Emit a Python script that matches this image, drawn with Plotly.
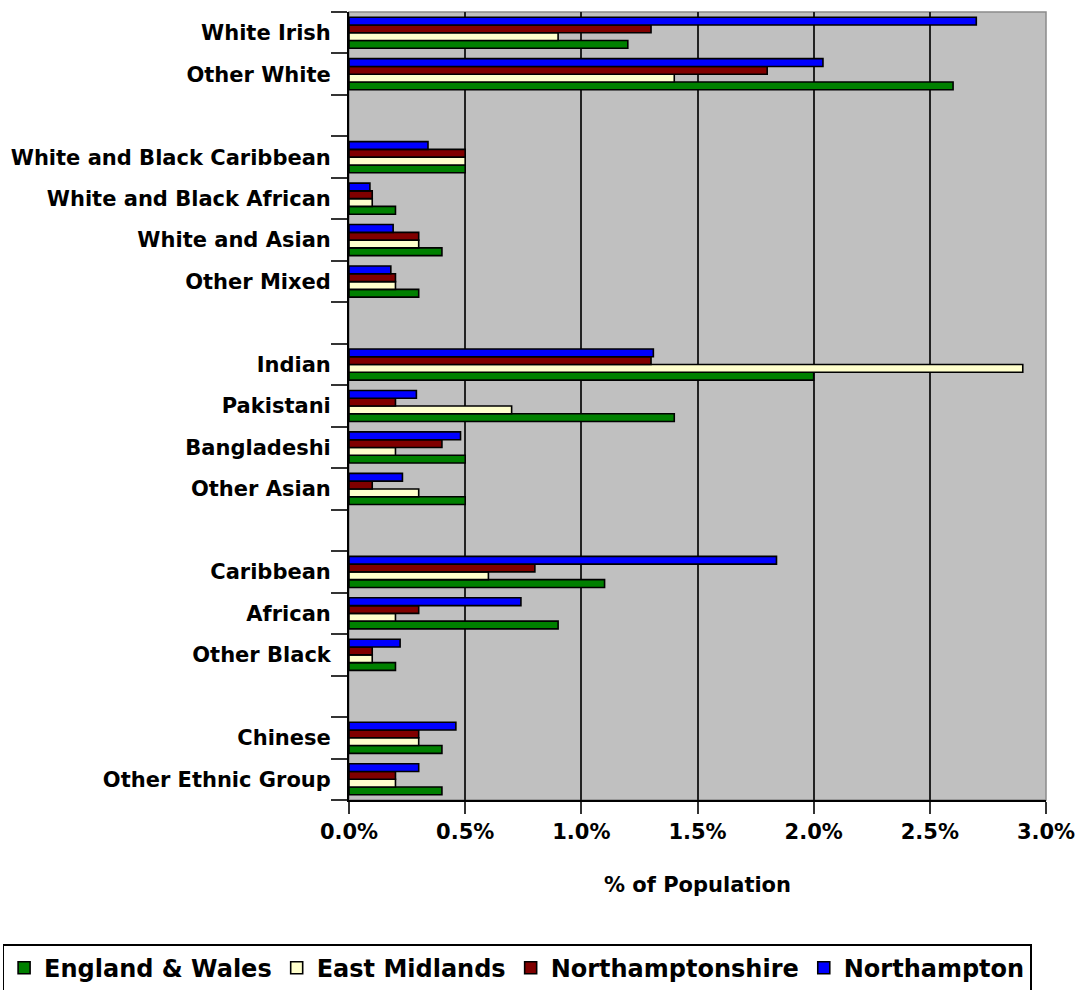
import plotly.graph_objects as go

categories = ["White Irish", "Other White", " ",
              "White and Black Caribbean", "White and Black African", "White and Asian", "Other Mixed", "  ",
              "Indian", "Pakistani", "Bangladeshi", "Other Asian", "   ",
              "Caribbean", "African", "Other Black", "    ",
              "Chinese", "Other Ethnic Group"]

england_wales =    [1.2, 2.6, None, 0.5, 0.2, 0.4, 0.3, None, 2.0, 1.4, 0.5, 0.5, None, 1.1, 0.9, 0.2, None, 0.4, 0.4]
east_midlands =    [0.9, 1.4, None, 0.5, 0.1, 0.3, 0.2, None, 2.9, 0.7, 0.2, 0.3, None, 0.6, 0.2, 0.1, None, 0.3, 0.2]
northamptonshire = [1.3, 1.8, None, 0.5, 0.1, 0.3, 0.2, None, 1.3, 0.2, 0.4, 0.1, None, 0.8, 0.3, 0.1, None, 0.3, 0.2]
northampton =      [2.7, 2.04, None, 0.34, 0.09, 0.19, 0.18, None, 1.31, 0.29, 0.48, 0.23, None, 1.84, 0.74, 0.22, None, 0.46, 0.3]

series = [
    ("England & Wales", england_wales, "#008000"),
    ("East Midlands", east_midlands, "#FFFFCC"),
    ("Northamptonshire", northamptonshire, "#800000"),
    ("Northampton", northampton, "#0000FF"),
]

fig = go.Figure()
for name, vals, col in series:
    fig.add_trace(go.Bar(
        y=categories, x=vals, name=name, orientation="h",
        marker=dict(color=col, line=dict(color="black", width=1.6)),
    ))

font_main = "DejaVu Sans"
fig.update_layout(
    width=1082, height=990,
    margin=dict(l=349, r=36, t=12, b=190, autoexpand=False),
    paper_bgcolor="white",
    plot_bgcolor="#C0C0C0",
    barmode="group",
    bargap=0.25,
    bargroupgap=0,
    font=dict(family=font_main, color="black"),
    showlegend=True,
    legend=dict(
        orientation="h",
        x=-0.497, y=-0.183, xanchor="left", yanchor="top",
        bordercolor="black", borderwidth=1.5, bgcolor="white",
        font=dict(size=24, family=font_main, weight="bold"),
        traceorder="normal",
        itemwidth=30,
    ),
    xaxis=dict(
        range=[0, 3.0], dtick=0.5, tick0=0,
        tickformat=".1f", ticksuffix="%",
        showgrid=True, gridcolor="#222222", gridwidth=1.5,
        showline=True, linecolor="black", linewidth=2,
        ticks="outside", ticklen=12, tickcolor="#333333", tickwidth=1.5,
        tickfont=dict(size=21, family=font_main, weight="bold"),
        ticklabelstandoff=0,
        title=dict(text="% of Population", font=dict(size=21, family=font_main, weight="bold"), standoff=34),
        zeroline=False,
    ),
    yaxis=dict(
        categoryorder="array",
        categoryarray=list(reversed(categories)),
        showline=True, linecolor="black", linewidth=2,
        ticks="outside", ticklen=16, tickcolor="#333333", tickwidth=1.5,
        tickson="boundaries",
        tickfont=dict(size=21, family=font_main, weight="bold"),
        showgrid=False,
        ticklabelstandoff=12,
    ),
)

fig.add_shape(type="rect", xref="paper", yref="paper", x0=0, x1=1, y0=0, y1=1,
              line=dict(color="#8a8a8a", width=1.5), layer="below")

fig.write_html("out.html")
